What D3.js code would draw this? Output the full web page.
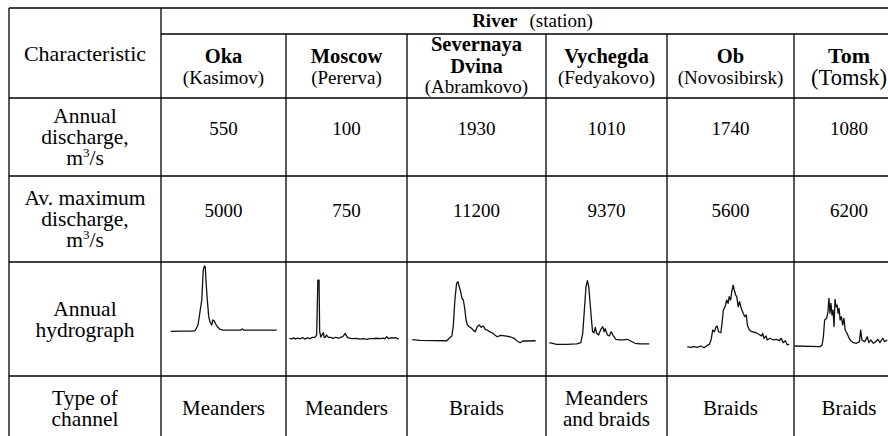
<!DOCTYPE html>
<meta charset="utf-8">
<head>
<style>
  body { margin: 0; background: #fff; }
</style>
</head>
<script src="https://cdnjs.cloudflare.com/ajax/libs/d3/7.8.5/d3.min.js"></script>
<body>
<div id="table"></div>
</body>
<script>

// ---- data ----
const rivers = ["Oka", "Moscow", "Severnaya Dvina", "Vychegda", "Ob", "Tom"];
const stations = ["(Kasimov)", "(Pererva)", "(Abramkovo)", "(Fedyakovo)", "(Novosibirsk)", "(Tomsk)"];
const annualDischarge = [550, 100, 1930, 1010, 1740, 1080];
const maxDischarge = [5000, 750, 11200, 9370, 5600, 6200];
const channelTypes = ["Meanders", "Meanders", "Braids", "Meanders and braids", "Braids", "Braids"];
const rowLabels = [
  ["Annual", "discharge,", "m3/s"],
  ["Av. maximum", "discharge,", "m3/s"],
  ["Annual", "hydrograph"],
  ["Type of", "channel"]
];

// hydrographs: [day of year, relative discharge 0-100]
const hydroOka = [[0,22],[40,22.2],[77,22.3],[84,22.7],[94,29.4],[107,58.8],[112,94],[116,98.8],[119,97.6],
  [122,78.8],[126,58.8],[131,39.2],[135,33.3],[141,29.4],[145,35.3],[149,34.5],[155,30.6],[162,26.7],
  [170,24.3],[181,23.5],[242,23.5],[247,24.9],[251,23.5],[365,23.5]];
const hydroMoscow = [[0,13.8],[8,13],[14,14.5],[19,12.9],[27,14],[36,13.2],[44,14.6],[52,12.9],[60,14.2],
  [69,13.4],[77,14.8],[85,14.9],[91,17.6],[95,82.3],[99,82.3],[101,21.5],[105,15.3],[109,18],[113,20.3],
  [116,15],[119,14.9],[124,17.6],[130,14.9],[138,14.9],[146,13.8],[155,15],[162,14],[169,14.5],[175,15.5],
  [180,16.5],[186,19.6],[193,14.9],[200,14],[207,13.5],[213,13.3],[224,13.8],[235,12.9],[246,13.4],
  [258,12.6],[268,13.5],[278,13.3],[290,13.8],[302,13.3],[312,14],[318,13.2],[324,15.6],[331,13.3],
  [338,14.4],[346,14.1],[355,14.5],[360,13.1],[365,13.3]];
const hydroDvina = [[0,12.1],[23,11.4],[102,10.9],[109,13.8],[117,16.5],[121,27.4],[126,58.8],[131,78.4],
  [135,80.3],[139,74.4],[143,68.6],[147,60.8],[151,58.8],[155,49],[159,35.3],[163,29.4],[169,27.4],
  [175,25.5],[180,23.5],[186,21.5],[192,27.4],[198,29.4],[204,26.7],[210,28.2],[216,24.3],[222,23.5],
  [228,21.5],[236,20.3],[244,17.6],[251,15.6],[261,17.3],[274,16.5],[289,15.6],[301,13.8],[309,10.9],
  [319,8.6],[327,10.6],[338,10.6],[365,10.9]];
const hydroVychegda = [[0,8.6],[27,6.7],[64,6.7],[100,7.1],[115,8.6],[122,19.6],[128,47],[134,74.4],
  [139,81.5],[144,74.4],[149,54.9],[153,39.2],[158,21.5],[163,20.3],[168,26.7],[173,19.6],[180,17.6],
  [188,24.3],[195,27.4],[200,21.5],[204,25.1],[212,17.6],[219,16.5],[226,21.5],[234,16.5],[243,12.6],
  [258,11.8],[270,11.8],[285,12.6],[295,10.9],[313,7.9],[331,7.1],[365,7.1]];
const hydroOb = [[0,3.9],[12,3.2],[24,3.9],[36,3.2],[48,4.7],[60,2.7],[70,5.1],[79,6.7],[85,11.8],[91,23.5],
  [97,21.5],[103,27.4],[107,28.2],[112,21.5],[120,20.3],[124,30.6],[129,47],[135,50.9],[141,58.8],
  [146,54.9],[150,62.7],[155,58.8],[159,68.6],[164,76.4],[168,70.6],[173,64.7],[177,62.7],[182,50.9],
  [187,56.8],[193,49],[200,43.2],[206,39.2],[211,41.2],[215,29.4],[222,23.5],[231,21.5],[246,20.3],
  [255,18.8],[265,16.5],[270,19.6],[274,13.8],[282,16.5],[286,11.8],[296,13.8],[308,11.8],[320,12.6],
  [329,10.9],[336,13.8],[343,8.6],[351,10.9],[358,5.9],[365,7.1]];
const hydroTom = [[0,4.7],[100,3.9],[108,5.9],[113,15.6],[118,35.3],[126,37.3],[131,45],[135,60.8],
  [139,43.2],[143,54.9],[147,41.2],[151,47],[155,27.4],[159,59.6],[163,50.9],[167,52.9],[171,43.2],
  [175,49],[179,35.3],[184,39.2],[189,29.4],[194,37.3],[199,23.5],[205,20.3],[213,14.9],[221,10.9],
  [231,8.6],[244,7.9],[255,9.8],[260,23.5],[265,11.8],[276,9.8],[286,15.6],[292,8.6],[300,11.8],
  [310,7.9],[320,9.8],[328,12.6],[336,8.6],[347,13.8],[355,9.8],[365,11.8]];
const hydrographs = [hydroOka, hydroMoscow, hydroDvina, hydroVychegda, hydroOb, hydroTom];

// ---- layout ----
const width = 888, height = 436;
const colEdges = [9, 161, 286, 407, 546, 667, 794, 904];
const rowEdges = [8, 34, 98, 176, 262, 376, 440];
// where each hydrograph sits inside its cell (offset from cell's left edge)
const hydroSpans = [[9.7, 115.7], [3.3, 113], [5.3, 128.7], [3.3, 103.3], [20.3, 122.3], [0.7, 93.3]];
const FONT = "Liberation Serif";

const svg = d3.select("#table")
  .append("svg")
    .attr("width", width)
    .attr("height", height);

const colCenter = i => (colEdges[i] + colEdges[i + 1]) / 2;
const rowCenter = r => (rowEdges[r] + rowEdges[r + 1]) / 2;

// every text gets its own family and size, set as attributes
function addText(parent, x, yPos, size, bold) {
  return parent.append("text")
    .attr("x", x).attr("y", yPos)
    .attr("text-anchor", "middle")
    .attr("font-family", FONT)
    .attr("font-size", size)
    .attr("font-weight", bold ? "bold" : "normal")
    .attr("fill", "#000");
}

// grid lines
const grid = svg.append("g").attr("stroke", "#000").attr("stroke-width", 1.3);
grid.append("line").attr("x1", colEdges[0]).attr("x2", width + 20).attr("y1", rowEdges[0]).attr("y2", rowEdges[0]);
grid.append("line").attr("x1", colEdges[1]).attr("x2", width + 20).attr("y1", rowEdges[1]).attr("y2", rowEdges[1]);
rowEdges.slice(2, 6).forEach(y => {
  grid.append("line").attr("x1", colEdges[0]).attr("x2", width + 20).attr("y1", y).attr("y2", y);
});
grid.append("line").attr("x1", colEdges[0]).attr("x2", colEdges[0]).attr("y1", rowEdges[0]).attr("y2", height + 10);
grid.append("line").attr("x1", colEdges[1]).attr("x2", colEdges[1]).attr("y1", rowEdges[0]).attr("y2", height + 10);
colEdges.slice(2, 7).forEach(x => {
  grid.append("line").attr("x1", x).attr("x2", x).attr("y1", rowEdges[1]).attr("y2", height + 10);
});

// header
addText(svg, colCenter(0), 61, 22, false).text("Characteristic");

const riverHead = addText(svg, (colEdges[1] + colEdges[7]) / 2, 27, 19, false);
riverHead.append("tspan").attr("font-weight", "bold").text("River");
riverHead.append("tspan").attr("dx", 12).text("(station)");

rivers.forEach((name, i) => {
  const big = name === "Tom";
  const nameLines = name.length > 10 ? name.split(" ") : [name];
  const baselines = nameLines.length > 1 ? [51, 73, 93] : [63, big ? 85 : 84];
  nameLines.forEach((l, k) => {
    addText(svg, colCenter(i + 1), baselines[k], big ? 22 : 20.5, true).text(l);
  });
  addText(svg, colCenter(i + 1), baselines[nameLines.length], big ? 22.5 : 19, false).text(stations[i]);
});

// row labels
function addLines(x, cy, lines, size) {
  const lh = 21;
  lines.forEach((l, k) => {
    const t = addText(svg, x, cy + 7 + (k - (lines.length - 1) / 2) * lh, size, false);
    if (l === "m3/s") {
      t.append("tspan").text("m");
      t.append("tspan").attr("dy", -8).attr("font-size", 13).text("3");
      t.append("tspan").attr("dy", 8).text("/s");
    } else {
      t.text(l);
    }
  });
}

rowLabels.forEach((lines, r) => addLines(colCenter(0), rowCenter(r + 2), lines, 21.5));

// numeric rows
[annualDischarge, maxDischarge].forEach((vals, r) => {
  vals.forEach((d, i) => {
    addText(svg, colCenter(i + 1), rowCenter(r + 2) - 2.5, 19, false).text(d);
  });
});

// channel type
channelTypes.forEach((t, i) => {
  const lines = t.length > 12 ? [t.slice(0, t.indexOf(" ")), t.slice(t.indexOf(" ") + 1)] : [t];
  addLines(colCenter(i + 1), rowCenter(5), lines, 21);
});

// hydrographs
const y = d3.scaleLinear().domain([0, 100]).range([rowEdges[4] + 88, rowEdges[4] + 3]);
hydrographs.forEach((series, i) => {
  const x = d3.scaleLinear()
    .domain([0, 365])
    .range([colEdges[i + 1] + hydroSpans[i][0], colEdges[i + 1] + hydroSpans[i][1]]);
  const line = d3.line().x(d => x(d[0])).y(d => y(d[1]));
  svg.append("path")
    .datum(series)
    .attr("d", line)
    .attr("fill", "none")
    .attr("stroke", "#111")
    .attr("stroke-width", 1.3)
    .attr("stroke-linejoin", "round");
});

</script>
